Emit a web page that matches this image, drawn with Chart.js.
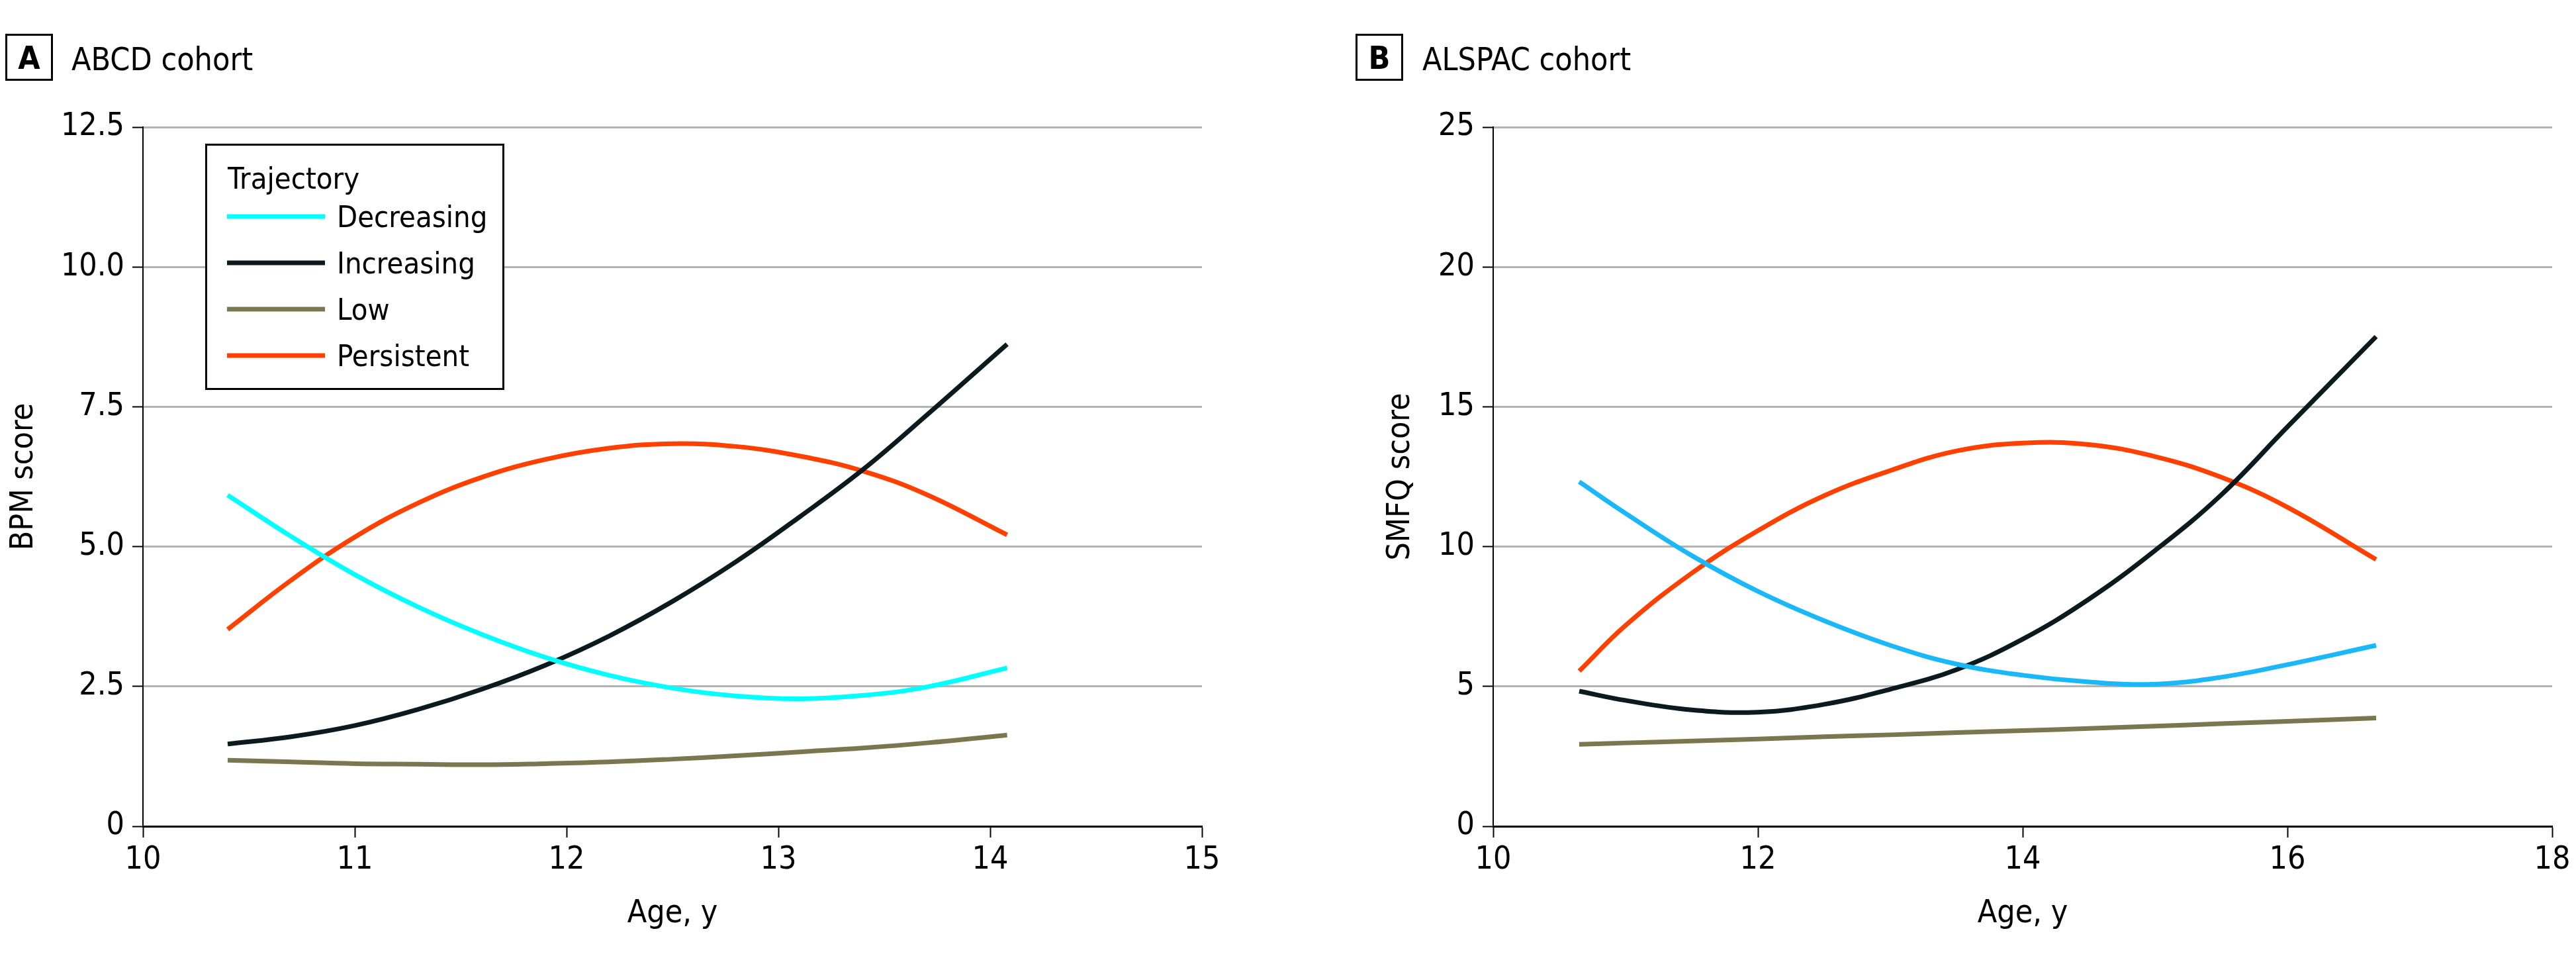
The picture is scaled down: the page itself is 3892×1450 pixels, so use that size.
<!DOCTYPE html>
<html>
<head>
<meta charset="utf-8">
<script src="https://cdn.jsdelivr.net/npm/chart.js@4/dist/chart.umd.min.js"></script>
<style>
  html, body { margin: 0; padding: 0; background: #fff; }
  body { width: 3892px; height: 1450px; position: relative; overflow: hidden; }
  canvas { position: absolute; top: 0; }
  #chartA { left: 0; }
  #chartB { left: 1900px; }
</style>
</head>
<body>
<canvas id="chartA" width="1900" height="1450"></canvas>
<canvas id="chartB" width="1992" height="1450"></canvas>
<script>
// panel A - ABCD cohort, BPM score
const agesA = [10.4, 10.7, 11.0, 11.3, 11.6, 11.9, 12.2, 12.5, 12.8, 13.1, 13.4, 13.7, 14.08];
const decreasingA = [5.92, 5.18, 4.50, 3.92, 3.43, 3.02, 2.70, 2.47, 2.33, 2.28, 2.34, 2.49, 2.83];
const increasingA = [1.47, 1.60, 1.80, 2.09, 2.45, 2.88, 3.40, 4.02, 4.73, 5.53, 6.38, 7.35, 8.62];
const lowA = [1.18, 1.15, 1.12, 1.11, 1.10, 1.12, 1.15, 1.20, 1.26, 1.33, 1.40, 1.49, 1.63];
const persistentA = [3.52, 4.40, 5.17, 5.78, 6.24, 6.56, 6.76, 6.84, 6.79, 6.62, 6.35, 5.93, 5.21];

// panel B - ALSPAC cohort, SMFQ score
const agesB = [10.65, 11.0, 11.5, 12.0, 12.5, 13.0, 13.5, 14.0, 14.5, 15.0, 15.5, 16.0, 16.67];
const decreasingB = [12.32, 11.19, 9.68, 8.40, 7.35, 6.47, 5.80, 5.40, 5.16, 5.08, 5.33, 5.78, 6.47];
const increasingB = [4.83, 4.50, 4.16, 4.08, 4.36, 4.90, 5.60, 6.69, 8.12, 9.86, 11.85, 14.28, 17.51];
const lowB = [2.93, 2.98, 3.05, 3.12, 3.20, 3.27, 3.35, 3.42, 3.50, 3.58, 3.67, 3.75, 3.87];
const persistentB = [5.55, 7.18, 9.05, 10.57, 11.82, 12.72, 13.42, 13.70, 13.65, 13.22, 12.48, 11.41, 9.54];

const trajectories = ['Decreasing', 'Increasing', 'Low', 'Persistent'];

const FONT = "'DejaVu Sans Condensed', 'Liberation Sans Narrow', sans-serif";
Chart.defaults.font.family = FONT;
Chart.defaults.color = '#000';

const pts = (xs, ys) => xs.map((x, i) => ({ x: x, y: ys[i] }));

function series(label, color, xs, ys) {
    return { label: label, data: pts(xs, ys), borderColor: color, backgroundColor: color,
             borderWidth: 7, pointRadius: 0, tension: 0.4, borderCapStyle: 'butt', fill: false };
}

// boxed panel letter + cohort title
const panelTag = {
    id: 'panelTag',
    afterDraw(chart, args, opts) {
        const ctx = chart.ctx;
        ctx.save();
        ctx.strokeStyle = '#000';
        ctx.lineWidth = 3;
        ctx.strokeRect(opts.boxX + 1.5, 52.5, 69, 68);
        ctx.fillStyle = '#000';
        ctx.textBaseline = 'alphabetic';
        ctx.textAlign = 'center';
        ctx.font = "bold 48px " + FONT;
        ctx.fillText(opts.letter, opts.boxX + 36, 104);
        ctx.textAlign = 'left';
        ctx.font = "48px " + FONT;
        ctx.fillText(opts.title, opts.titleX, 106);
        ctx.restore();
    }
};

// legend box inside panel A
const trajLegend = {
    id: 'trajLegend',
    afterDraw(chart, args, opts) {
        if (!opts.show) return;
        const ctx = chart.ctx;
        ctx.save();
        ctx.fillStyle = '#fff';
        ctx.fillRect(310, 217, 452, 372);
        ctx.strokeStyle = '#000';
        ctx.lineWidth = 3;
        ctx.strokeRect(311.5, 218.5, 449, 369);
        ctx.fillStyle = '#000';
        ctx.font = "45px " + FONT;
        ctx.textAlign = 'left';
        ctx.textBaseline = 'alphabetic';
        ctx.fillText('Trajectory', 344, 285);
        chart.data.datasets.forEach((ds, i) => {
            const y = 327 + i * 70;
            ctx.strokeStyle = ds.borderColor;
            ctx.lineWidth = 7;
            ctx.beginPath();
            ctx.moveTo(343, y);
            ctx.lineTo(491, y);
            ctx.stroke();
            ctx.fillStyle = '#000';
            ctx.fillText(ds.label, 509, y + 16);
        });
        ctx.restore();
    }
};

function makeChart(id, o) {
    return new Chart(document.getElementById(id), {
        type: 'line',
        data: { datasets: o.datasets },
        options: {
            responsive: false, animation: false, devicePixelRatio: 1,
            layout: { padding: { top: 192, left: o.padLeft, right: o.padRight, bottom: 0 } },
            plugins: {
                legend: { display: false }, tooltip: { enabled: false },
                panelTag: o.tag, trajLegend: { show: o.legend }
            },
            scales: {
                x: {
                    type: 'linear', min: o.xMin, max: o.xMax,
                    afterFit: s => { s.height = 202; },
                    ticks: { stepSize: o.xStep, padding: 6, font: { size: 48 }, color: '#000' },
                    grid: { drawOnChartArea: false, drawTicks: true, tickLength: 17, tickColor: '#000', tickWidth: 2 },
                    border: { color: '#000', width: 3 },
                    title: { display: true, text: 'Age, y', font: { size: 48 }, color: '#000', padding: { top: 0, bottom: 41 } }
                },
                y: {
                    type: 'linear', min: 0, max: o.yMax,
                    afterFit: s => { s.width = o.yWidth; },
                    ticks: { stepSize: o.yStep, padding: 12, font: { size: 48 }, color: '#000', callback: o.yFmt },
                    grid: {
                        color: c => (c.tick && c.tick.value === 0) ? 'rgba(0,0,0,0)' : '#b3b3b3',
                        lineWidth: 3, tickLength: 16, tickColor: '#000', tickWidth: 2
                    },
                    border: { color: '#000', width: 2 },
                    title: { display: true, text: o.yTitle, font: { size: 48 }, color: '#000', padding: { top: 8, bottom: 0 } }
                }
            }
        },
        plugins: [panelTag, trajLegend]
    });
}

makeChart('chartA', {
    datasets: [
        series(trajectories[0], '#00ffff', agesA, decreasingA),
        series(trajectories[1], '#0b1a1e', agesA, increasingA),
        series(trajectories[2], '#7a7650', agesA, lowA),
        series(trajectories[3], '#ff4000', agesA, persistentA)
    ],
    padLeft: 0, padRight: 84, yWidth: 216,
    xMin: 10, xMax: 15, xStep: 1,
    yMax: 12.5, yStep: 2.5, yTitle: 'BPM score',
    yFmt: v => v === 0 ? '0' : v.toFixed(1),
    tag: { letter: 'A', title: 'ABCD cohort', boxX: 8, titleX: 108 },
    legend: true
});

makeChart('chartB', {
    datasets: [
        series(trajectories[0], '#1ab8f8', agesB, decreasingB),
        series(trajectories[1], '#0b1a1e', agesB, increasingB),
        series(trajectories[2], '#7a7650', agesB, lowB),
        series(trajectories[3], '#ff4000', agesB, persistentB)
    ],
    padLeft: 180, padRight: 36, yWidth: 176,
    xMin: 10, xMax: 18, xStep: 2,
    yMax: 25, yStep: 5, yTitle: 'SMFQ score',
    yFmt: v => String(v),
    tag: { letter: 'B', title: 'ALSPAC cohort', boxX: 148, titleX: 249 },
    legend: false
});
</script>
</body>
</html>
